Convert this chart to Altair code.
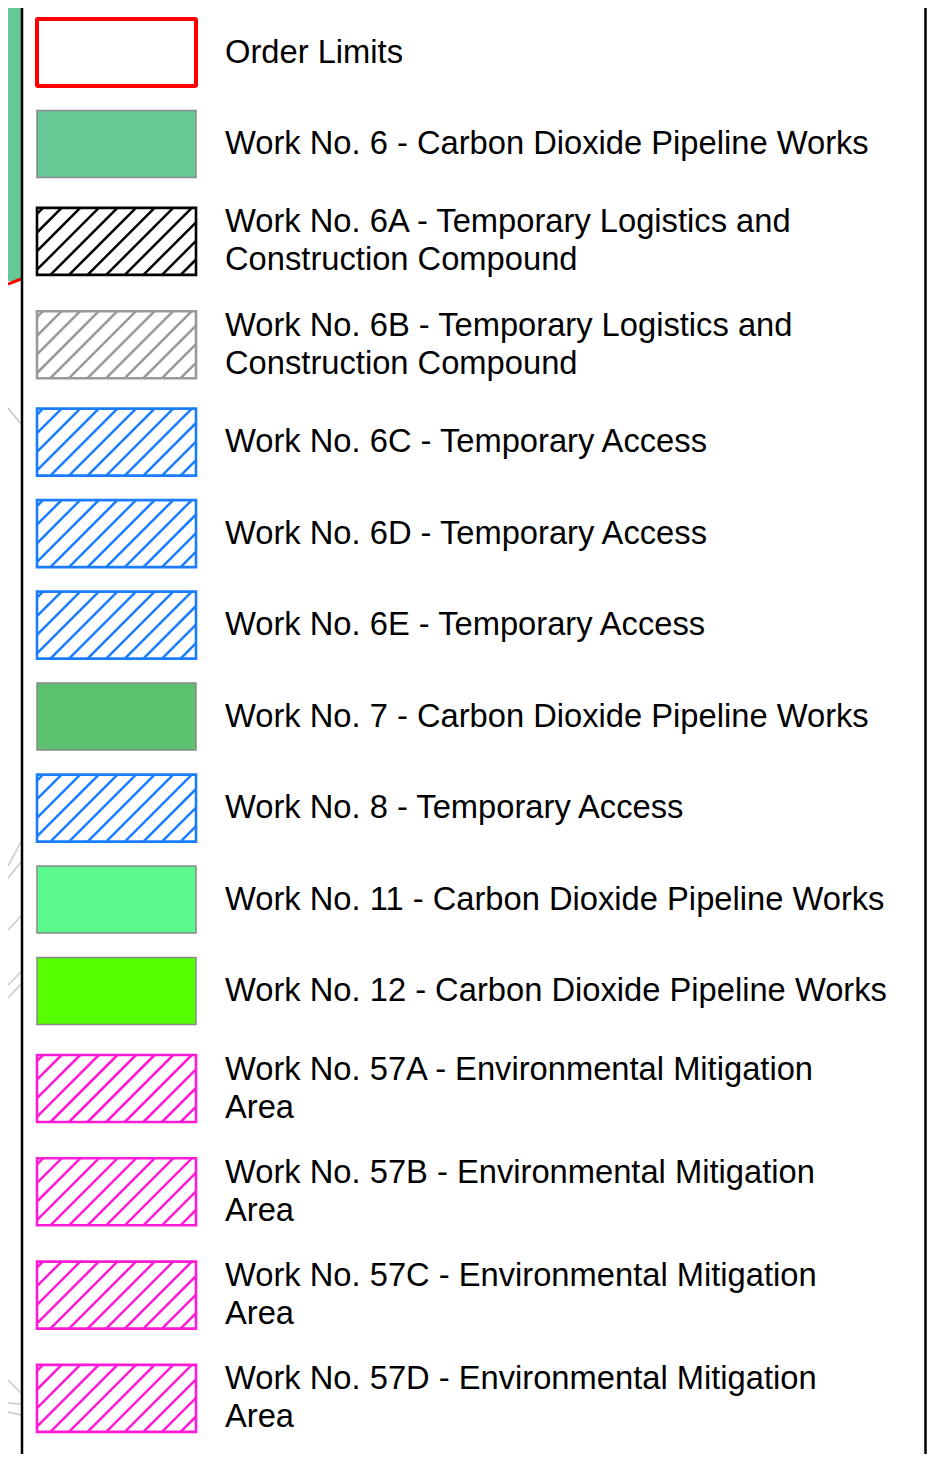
import altair as alt
import pandas as pd

# ---- legend content ----
labels = [
    "Order Limits",
    "Work No. 6 - Carbon Dioxide Pipeline Works",
    "Work No. 6A - Temporary Logistics and\nConstruction Compound",
    "Work No. 6B - Temporary Logistics and\nConstruction Compound",
    "Work No. 6C - Temporary Access",
    "Work No. 6D - Temporary Access",
    "Work No. 6E - Temporary Access",
    "Work No. 7 - Carbon Dioxide Pipeline Works",
    "Work No. 8 - Temporary Access",
    "Work No. 11 - Carbon Dioxide Pipeline Works",
    "Work No. 12 - Carbon Dioxide Pipeline Works",
    "Work No. 57A - Environmental Mitigation\nArea",
    "Work No. 57B - Environmental Mitigation\nArea",
    "Work No. 57C - Environmental Mitigation\nArea",
    "Work No. 57D - Environmental Mitigation\nArea",
]
kinds = ["outline", "fill", "hatch", "hatch", "hatch", "hatch", "hatch",
         "fill", "hatch", "fill", "fill", "hatch", "hatch", "hatch", "hatch"]
colors = ["#ff0000", "#66c995", "#000000", "#999999", "#1a7dff", "#1a7dff",
          "#1a7dff", "#5dc26f", "#1a7dff", "#5bf98d", "#55ff00",
          "#ff1ad6", "#ff1ad6", "#ff1ad6", "#ff1ad6"]

# ---- layout (page-pixel coordinates) ----
X0, X1 = 8, 927
Y0, Y1 = 8, 1454
SW_L, SW_R = 37, 196
SW_HALF = 33.5
TEXT_X = 225
LINE_GAP = 19
ROW_SINGLE, ROW_DOUBLE = 91.5, 103.3
HATCH_STEP = 18.6

centers = []
c = 52.5
for i, lab in enumerate(labels):
    if i > 0:
        hp = ROW_DOUBLE if "\n" in labels[i - 1] else ROW_SINGLE
        hc = ROW_DOUBLE if "\n" in lab else ROW_SINGLE
        c += (hp + hc) / 2
    centers.append(c)

sw_rows, hatch_rows, text_rows = [], [], []
for i, (lab, kind, col) in enumerate(zip(labels, kinds, colors)):
    cy = centers[i]
    y_top, y_bot = cy - SW_HALF, cy + SW_HALF
    sw_rows.append(dict(x=SW_L, x2=SW_R, y=y_top, y2=y_bot, kind=kind, col=col,
                        fill=(col if kind == "fill" else "#ffffff"),
                        stroke=(col if kind != "fill" else "#8a8a8a")))
    if kind == "hatch":
        k = SW_L + y_top + 6
        while k < SW_R + y_bot:
            xa = max(SW_L, k - y_bot)
            xb = min(SW_R, k - y_top)
            if xb > xa + 0.5:
                hatch_rows.append(dict(x=xa, y=k - xa, x2=xb, y2=k - xb, col=col))
            k += HATCH_STEP
    lines = lab.split("\n")
    n = len(lines)
    for j, ln in enumerate(lines):
        text_rows.append(dict(x=TEXT_X, y=cy + (j - (n - 1) / 2) * 2 * LINE_GAP, t=ln))

sw = pd.DataFrame(sw_rows)
hatch = pd.DataFrame(hatch_rows)
txt = pd.DataFrame(text_rows)

xs = alt.Scale(domain=[X0, X1], nice=False, zero=False)
ys = alt.Scale(domain=[Y0, Y1], reverse=True, nice=False, zero=False)

def X(f="x"):
    return alt.X(f"{f}:Q", scale=xs, axis=None)

def Y(f="y"):
    return alt.Y(f"{f}:Q", scale=ys, axis=None)

# map fragments on the left
map_fill = pd.DataFrame([dict(x=X0, x2=21, y=Y0, y2=281)])
map_red = pd.DataFrame([dict(x=X0, y=284, x2=21, y2=279)])
map_gray = pd.DataFrame([
    dict(x=X0, y=408, x2=21, y2=424),
    dict(x=X0, y=866, x2=21, y2=842),
    dict(x=X0, y=878, x2=21, y2=862),
    dict(x=X0, y=930, x2=21, y2=916),
    dict(x=X0, y=985, x2=21, y2=972),
    dict(x=X0, y=998, x2=21, y2=984),
    dict(x=X0, y=1380, x2=21, y2=1393),
    dict(x=X0, y=1403, x2=21, y2=1404),
    dict(x=X0, y=1412, x2=21, y2=1415),
])
frame = pd.DataFrame([dict(x=22, x2=22, y=Y0, y2=Y1), dict(x=925.5, x2=925.5, y=Y0, y2=Y1)])

l_map = alt.Chart(map_fill).mark_rect(color="#66c995").encode(
    x=X(), x2="x2:Q", y=Y(), y2="y2:Q")
l_red = alt.Chart(map_red).mark_rule(color="#ff0000", strokeWidth=3).encode(
    x=X(), y=Y(), x2="x2:Q", y2="y2:Q")
l_gray = alt.Chart(map_gray).mark_rule(color="#c8c8c8", strokeWidth=1.5).encode(
    x=X(), y=Y(), x2="x2:Q", y2="y2:Q")
l_frame = alt.Chart(frame).mark_rule(color="#000000", strokeWidth=2.5).encode(
    x=X(), y=Y(), x2="x2:Q", y2="y2:Q")

l_fill = alt.Chart(sw).mark_rect().encode(
    x=X(), x2="x2:Q", y=Y(), y2="y2:Q",
    fill=alt.Fill("fill:N", scale=None))
l_hatch = alt.Chart(hatch).mark_rule(strokeWidth=2.5).encode(
    x=X(), y=Y(), x2="x2:Q", y2="y2:Q",
    color=alt.Color("col:N", scale=None))
sw_out = sw[sw.kind == "outline"]
sw_h = sw[sw.kind == "hatch"]
sw_f = sw[sw.kind == "fill"]
l_b_out = alt.Chart(sw_out).mark_rect(filled=False, strokeWidth=4, cornerRadius=1).encode(
    x=X(), x2="x2:Q", y=Y(), y2="y2:Q", stroke=alt.Stroke("stroke:N", scale=None))
l_b_h = alt.Chart(sw_h).mark_rect(filled=False, strokeWidth=2.6).encode(
    x=X(), x2="x2:Q", y=Y(), y2="y2:Q", stroke=alt.Stroke("stroke:N", scale=None))
l_b_f = alt.Chart(sw_f).mark_rect(filled=False, strokeWidth=1.5).encode(
    x=X(), x2="x2:Q", y=Y(), y2="y2:Q", stroke=alt.Stroke("stroke:N", scale=None))

l_text = alt.Chart(txt).mark_text(
    align="left", baseline="middle", font="Liberation Sans", fontSize=32.7, color="#000000"
).encode(x=X(), y=Y(), text="t:N")

chart = alt.layer(
    l_map, l_red, l_gray, l_frame, l_fill, l_hatch, l_b_out, l_b_h, l_b_f, l_text
).properties(
    width=X1 - X0, height=Y1 - Y0, padding=0, autosize=alt.AutoSizeParams(type="none")
).configure_view(strokeWidth=0)

chart.save("out.html", embed_options={"renderer": "svg", "actions": False})
